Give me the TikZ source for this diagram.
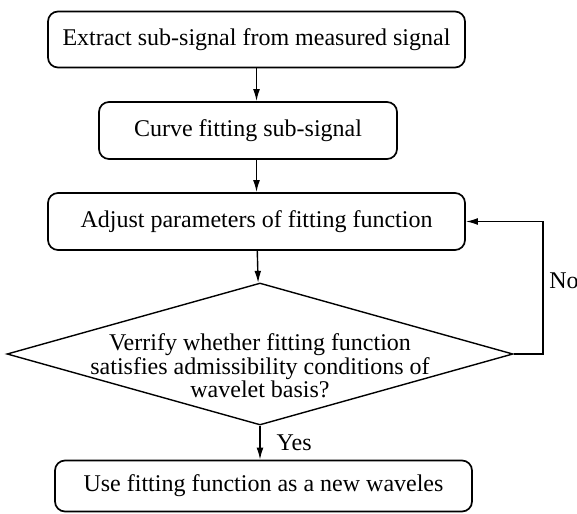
\documentclass[tikz,border=0pt]{standalone}
\usepackage{fontspec}
\setmainfont{Liberation Serif}
\usetikzlibrary{shapes.geometric,arrows.meta}

\tikzset{
    stepbox/.style={draw, line width=.85pt, rounded corners=5pt, minimum height=28pt, inner sep=0pt},
    decision/.style={draw, line width=.7pt, diamond, minimum width=253pt, minimum height=71pt, inner sep=0pt},
    flow/.style={line width=.7pt, -{Latex[length=6pt,width=3.4pt]}},
    txt/.style={font=\fontsize{12}{11.8}\selectfont}
}

\begin{document}
\begin{tikzpicture}[x=.5pt,y=-.5pt,txt]
            \useasboundingbox (0,0) rectangle (577,513);

            \node[stepbox, minimum width=208.5pt] (extract) at (256.5,39.5) {Extract sub-signal from measured signal};
            \node[stepbox, minimum width=149pt, minimum height=28.5pt] (fit) at (248,130.5) {Curve fitting sub-signal};
            \node[stepbox, minimum width=208.5pt, minimum height=28.5pt] (adjust) at (256.5,221.5) {Adjust parameters of fitting function};
            \node[decision] (check) at (260,354) {};
            \node[align=center, inner sep=0pt] (checktext) at (260,366) {Verrify whether fitting function\\satisfies admissibility conditions of\\wavelet basis?};
            \node[stepbox, minimum width=208.5pt, minimum height=25.5pt] (use) at (263.5,486) {Use fitting function as a new waveles};
            \coordinate (loop) at (543,354);

            \draw[flow] (extract) -- (extract.south |- fit.north);
            \draw[flow] (fit.south -| extract.south) -- (adjust);
            \draw[flow] (adjust) -- (check);
            \draw[flow] (check) -- (check.south |- use.north) node[pos=.5, right=8pt, inner sep=0pt] (yes) {Yes};
            \draw[flow] (check.east) -- (loop) |- (adjust.east);
            \node[anchor=west, inner sep=0pt] (no) at (549,281) {No};

        \end{tikzpicture}
\end{document}
